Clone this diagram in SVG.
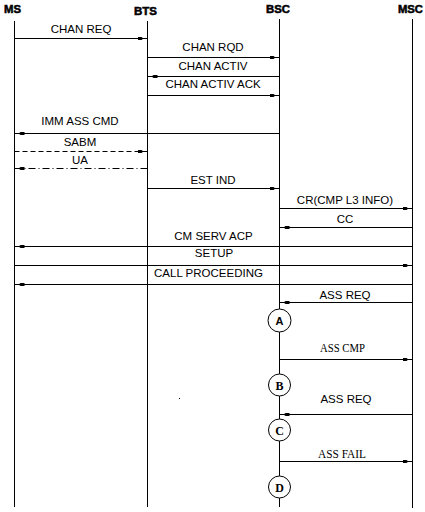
<svg xmlns="http://www.w3.org/2000/svg" width="425" height="512" viewBox="0 0 425 512">
<style>
.hdr{font-family:"Liberation Sans",Arial,sans-serif;font-size:10.5px;font-weight:bold;fill:#000;stroke:#000;stroke-width:0.5}
.life{stroke:#000;stroke-width:1;fill:none}
.msg{stroke:#000;stroke-width:1;fill:none;marker-end:url(#ah)}
.dash{stroke-dasharray:5,3}
.dashdot{stroke-dasharray:7,3,1,3}
.lbl{font-family:"Liberation Sans",Arial,sans-serif;font-size:11.5px;fill:#000;text-anchor:middle}
.slbl{font-family:"Liberation Serif","Times New Roman",serif;font-size:12.5px;fill:#000;text-anchor:middle}
.circ{fill:#fff;stroke:#000;stroke-width:1}
.cA{font-family:"Liberation Sans",Arial,sans-serif;font-size:11px;font-weight:bold;text-anchor:middle}
.cS{font-family:"Liberation Serif","Times New Roman",serif;font-size:12px;font-weight:bold;text-anchor:middle}
</style>
<defs>
<marker id="ah" markerUnits="userSpaceOnUse" viewBox="0 0 10 4" refX="10" refY="2" markerWidth="10" markerHeight="4" orient="auto">
<path d="M0,0.5 L4,0.5 L6,2 L4,3.5 L0,3.5 Z" fill="#000"/>
</marker>
</defs>
<rect width="425" height="512" fill="#fff"/>
<g id="MS">
<text class="hdr" x="4" y="13" textLength="17" lengthAdjust="spacingAndGlyphs">MS</text>
<line class="life" x1="14.5" y1="21" x2="14.5" y2="507"/>
</g>
<g id="BTS">
<text class="hdr" x="134" y="15" textLength="23" lengthAdjust="spacingAndGlyphs">BTS</text>
<line class="life" x1="147.5" y1="21" x2="147.5" y2="507"/>
</g>
<g id="BSC">
<text class="hdr" x="266" y="13" textLength="24" lengthAdjust="spacingAndGlyphs">BSC</text>
<line class="life" x1="279.5" y1="19" x2="279.5" y2="507"/>
</g>
<g id="MSC">
<text class="hdr" x="398" y="13" textLength="25" lengthAdjust="spacingAndGlyphs">MSC</text>
<line class="life" x1="412.5" y1="19" x2="412.5" y2="508"/>
</g>
<g id="connectors">
<line class="msg" x1="14.5" y1="38.5" x2="147.5" y2="38.5"/>
<line class="msg" x1="147.5" y1="57.5" x2="279.5" y2="57.5"/>
<line class="msg" x1="279.5" y1="76.5" x2="147.5" y2="76.5"/>
<line class="msg" x1="147.5" y1="95.5" x2="279.5" y2="95.5"/>
<line class="msg" x1="279.5" y1="133.5" x2="14.5" y2="133.5"/>
<line class="msg dash" x1="14.5" y1="151.5" x2="147.5" y2="151.5"/>
<line class="msg dashdot" x1="147.5" y1="168.5" x2="14.5" y2="168.5"/>
<line class="msg" x1="147.5" y1="188.5" x2="279.5" y2="188.5"/>
<line class="msg" x1="279.5" y1="208.5" x2="412.5" y2="208.5"/>
<line class="msg" x1="412.5" y1="227.5" x2="279.5" y2="227.5"/>
<line class="msg" x1="412.5" y1="246.5" x2="14.5" y2="246.5"/>
<line class="msg" x1="14.5" y1="265.5" x2="412.5" y2="265.5"/>
<line class="msg" x1="412.5" y1="284.5" x2="14.5" y2="284.5"/>
<line class="msg" x1="412.5" y1="302.5" x2="279.5" y2="302.5"/>
<line class="msg" x1="279.5" y1="359.5" x2="412.5" y2="359.5"/>
<line class="msg" x1="412.5" y1="414.5" x2="279.5" y2="414.5"/>
<line class="msg" x1="279.5" y1="461.5" x2="412.5" y2="461.5"/>
</g>
<g id="labels">
<text class="lbl" x="81" y="33">CHAN REQ</text>
<text class="lbl" x="213" y="50.5">CHAN RQD</text>
<text class="lbl" x="213" y="69.5">CHAN ACTIV</text>
<text class="lbl" x="213" y="88">CHAN ACTIV ACK</text>
<text class="lbl" x="80" y="124.5">IMM ASS CMD</text>
<text class="lbl" x="80" y="146">SABM</text>
<text class="lbl" x="80" y="163.5">UA</text>
<text class="lbl" x="213" y="184">EST IND</text>
<text class="lbl" x="345" y="203.5">CR(CMP L3 INFO)</text>
<text class="lbl" x="345" y="222.5">CC</text>
<text class="lbl" x="213.5" y="240">CM SERV ACP</text>
<text class="lbl" x="214" y="256.7">SETUP</text>
<text class="lbl" x="208.5" y="276.7">CALL PROCEEDING</text>
<text class="lbl" x="345" y="298.5">ASS REQ</text>
<text class="slbl" x="342.5" y="351.5" textLength="45" lengthAdjust="spacingAndGlyphs">ASS CMP</text>
<text class="lbl" x="346" y="402.5">ASS REQ</text>
<text class="slbl" x="342" y="457.5" textLength="48" lengthAdjust="spacingAndGlyphs">ASS FAIL</text>
</g>
<g id="A">
<circle class="circ" cx="279.5" cy="320.5" r="11.5"/>
<text class="cA" x="279.5" y="325">A</text>
</g>
<g id="B">
<circle class="circ" cx="279.5" cy="385" r="11"/>
<text class="cS" x="279.5" y="389.5">B</text>
</g>
<g id="C">
<circle class="circ" cx="279.5" cy="430" r="11"/>
<text class="cS" x="279.5" y="434.5">C</text>
</g>
<g id="D">
<circle class="circ" cx="279.5" cy="487" r="11"/>
<text class="cS" x="279.5" y="491.5">D</text>
</g>
<rect x="179" y="398" width="1" height="1" fill="#000"/>
</svg>
